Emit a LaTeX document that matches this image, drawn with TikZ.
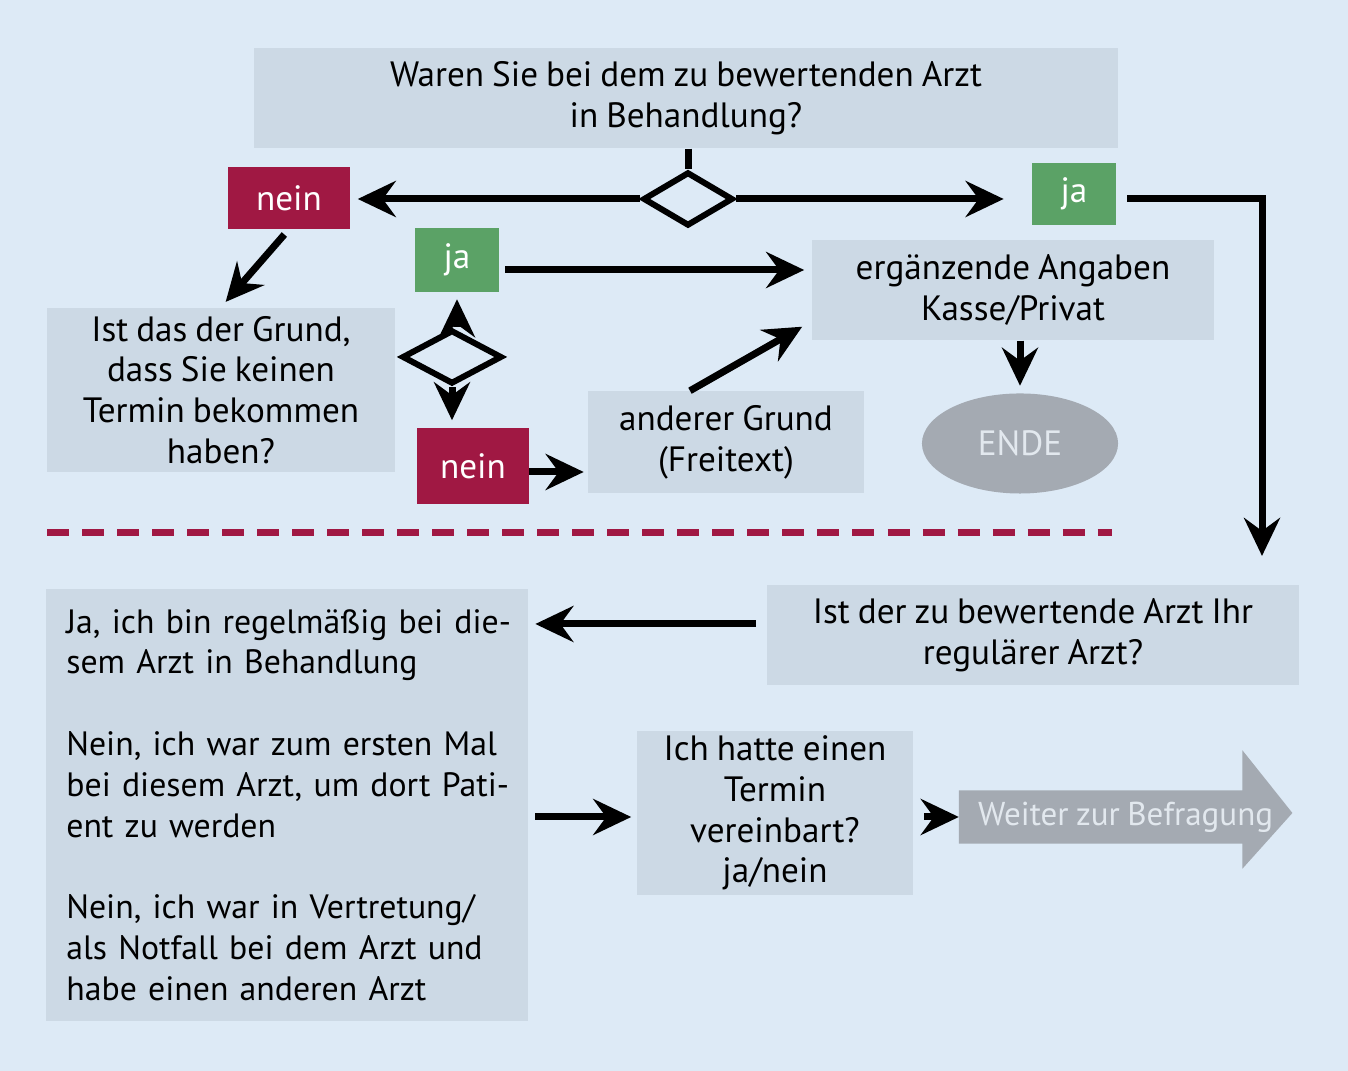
\documentclass[tikz,border=0pt]{standalone}
\usepackage{fontspec}
\setmainfont{PT Sans}[WordSpace=0.85]
\usetikzlibrary{arrows.meta,positioning,shapes.geometric,calc,backgrounds}
\definecolor{hintergrund}{RGB}{221,234,246}
\definecolor{kasten}{RGB}{204,217,229}
\definecolor{neinrot}{RGB}{160,24,67}
\definecolor{jagruen}{RGB}{91,162,102}
\definecolor{endegrau}{RGB}{164,170,178}
\definecolor{hellschrift}{RGB}{226,232,238}

\begin{document}
\begin{tikzpicture}[
    x=0.01cm, y=-0.01cm,
    box/.style={rectangle, fill=kasten, inner sep=0pt, align=center,
                font=\fontsize{10}{11.6}\selectfont},
    neinbox/.style={rectangle, fill=neinrot, text=white, inner sep=0pt,
                    font=\fontsize{10}{11.6}\selectfont},
    jabox/.style={rectangle, fill=jagruen, text=white, inner sep=0pt,
                  font=\fontsize{10}{11.6}\selectfont},
    raute/.style={diamond, draw, line width=0.06cm, inner sep=0pt},
    arrow/.style={-{Stealth[length=0.38cm,width=0.36cm,inset=0.13cm]},
                  line width=0.07cm, shorten >=2pt},
    linie/.style={line width=0.07cm},
    trenn/.style={neinrot, line width=0.07cm, dash pattern=on 0.22cm off 0.13cm},
]

% Frage oben
\node[box, minimum width=8.63cm, minimum height=1.0cm] (frage) at (686,98)
    {Waren Sie bei dem zu bewertenden Arzt\\in Behandlung?};
\node[raute, minimum width=0.9cm, minimum height=0.54cm] (raute1) at (688,199) {};
\node[neinbox, minimum width=1.22cm, minimum height=0.61cm] (nein1) at (289,198) {nein};
\node[jabox, minimum width=0.83cm, minimum height=0.61cm] (ja1) at (1074,194) {ja};

% Zweig nein
\node[box, minimum width=3.48cm, minimum height=1.64cm] (grund) at (221,390)
    {Ist das der Grund,\\dass Sie keinen\\Termin bekommen\\haben?};
\node[raute, minimum width=1.0cm, minimum height=0.54cm] (raute2) at (452,357) {};
\node[jabox, minimum width=0.83cm, minimum height=0.63cm] (ja2) at (457,260) {ja};
\node[neinbox, minimum width=1.11cm, minimum height=0.76cm] (nein2) at (473,466) {nein};
\node[box, minimum width=2.76cm, minimum height=1.01cm] (anders) at (726,442)
    {anderer Grund\\(Freitext)};
\node[box, minimum width=4.02cm, minimum height=1.0cm] (angaben) at (1013,290)
    {ergänzende Angaben\\Kasse/Privat};
\node[ellipse, fill=endegrau, text=hellschrift, minimum width=1.96cm, minimum height=1.0cm,
      inner sep=0pt, font=\fontsize{10}{11.6}\selectfont,
      below=0.52cm of angaben, xshift=0.07cm] (ende) {ENDE};

% Zweig ja
\coordinate (unten) at (1262,563);
\node[box, minimum width=5.31cm, minimum height=0.99cm] (regulaer) at (1033,635)
    {Ist der zu bewertende Arzt Ihr\\regulärer Arzt?};
\node[box, align=left, text width=4.41cm, inner xsep=0.2cm, minimum height=4.31cm,
      font=\fontsize{9.6}{11.6}\selectfont] (antworten) at (287,805)
    {\mbox{Ja, ich bin regelmäßig bei die-}\\\mbox{sem Arzt in Behandlung}\\[11.6pt]
     \mbox{Nein, ich war zum ersten Mal}\\\mbox{bei diesem Arzt, um dort Pati-}\\\mbox{ent zu werden}\\[11.6pt]
     \mbox{Nein, ich war in Vertretung/}\\\mbox{als Notfall bei dem Arzt und}\\\mbox{habe einen anderen Arzt}};
\node[box, minimum width=2.76cm, minimum height=1.64cm] (termin) at (775,813)
    {Ich hatte einen\\Termin\\vereinbart?\\ja/nein};
\node[text=hellschrift, inner sep=0pt, minimum width=3.32cm, minimum height=0.52cm,
      font=\fontsize{9.4}{11}\selectfont, right=0.45cm of termin, yshift=-0.04cm] (weiter)
    {Weiter zur Befragung};

% Arrows
\draw[linie] (frage.south -| raute1.north) -- (raute1.north);
\draw[arrow] (raute1.west) -- (raute1.west -| nein1.east);
\draw[arrow, shorten >=8pt] (raute1.east) -- (raute1.east -| ja1.west);
\draw[arrow, linie, shorten <=0.11cm] (ja1.east |- raute1.east) -| (unten);
\draw[arrow, shorten <=2pt] (nein1.south) -- (grund.north);
\draw[arrow] (raute2.north -| ja2.south) -- (ja2.south);
\draw[arrow] (raute2.south) -- (raute2.south |- nein2.north);
\draw[arrow, shorten >=1pt] ([yshift=-0.06cm]nein2.east) -- ([yshift=-0.06cm]nein2.east -| anders.west);
\draw[arrow, shorten <=0.06cm, shorten >=0.07cm] ([yshift=-0.1cm]ja2.east) -- ([yshift=-0.1cm]ja2.east -| angaben.west);
\draw[arrow, shorten >=0pt] ([xshift=-0.36cm]anders.north) -- ([shift={(-9,-14)}]angaben.south west);
\draw[arrow, shorten >=0.07cm] (ende.north |- angaben.south) -- (ende.north);
\draw[arrow, shorten <=3pt] ([yshift=0.11cm]regulaer.west) -- ([yshift=0.11cm]regulaer.west -| antworten.east);
\draw[arrow, shorten <=0.07cm, shorten >=0.05cm] (antworten.east |- weiter.west) -- (termin.west |- weiter.west);
\draw[arrow, shorten <=3pt, shorten >=0pt] (termin.east |- weiter.west) -- (weiter.west);

% Trennlinie
\draw[trenn] (47,533) -- (1112,533);

\begin{scope}[on background layer]
\fill[hintergrund] (0,0) rectangle (1348,1071);
\fill[endegrau] (weiter.south west) -- (weiter.north west) -- ($(weiter.north east)+(-50,0)$)
    -- ($(weiter.north east)+(-50,-40)$) -- ($(weiter.east)+(0,-4)$)
    -- ($(weiter.south east)+(-50,25)$) -- ($(weiter.south east)+(-50,0)$) -- cycle;
\end{scope}
\useasboundingbox (0,0) rectangle (1348,1071);
\end{tikzpicture}
\end{document}
